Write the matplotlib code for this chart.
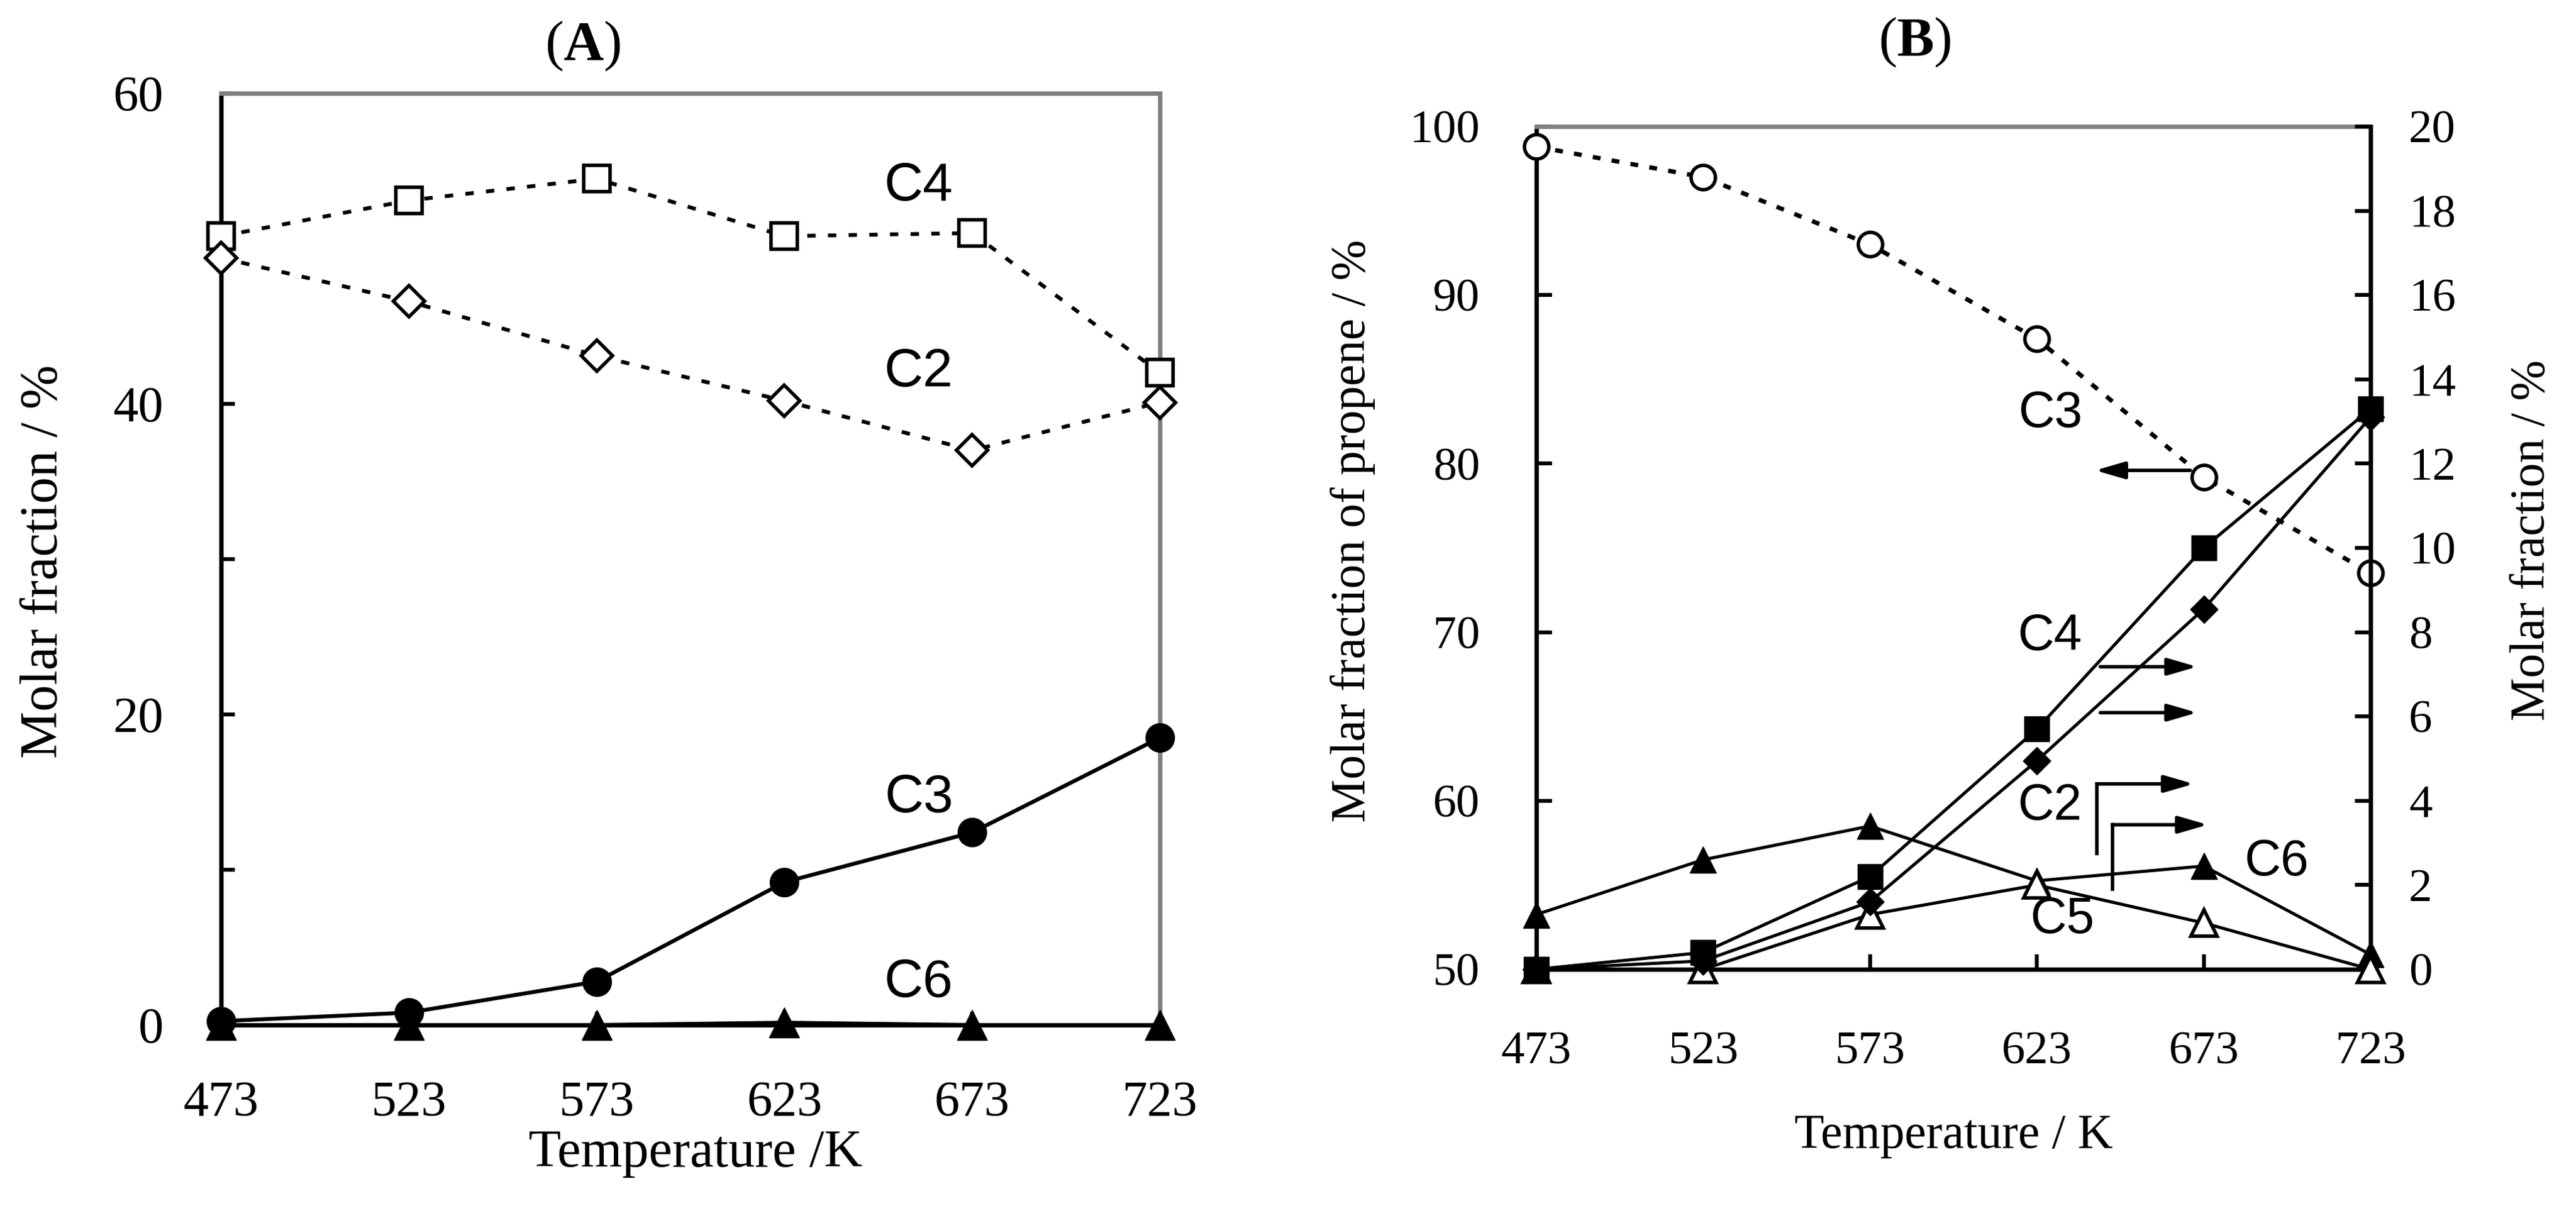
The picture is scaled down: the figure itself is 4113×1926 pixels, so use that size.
import matplotlib
matplotlib.use('Agg')
import matplotlib.pyplot as plt
from matplotlib.ticker import FixedLocator

# ---------------- data ----------------
temps = [473, 523, 573, 623, 673, 723]

# Panel A (molar fraction / %)
a_c4 = [50.8, 53.1, 54.5, 50.8, 51.0, 42.0]
a_c2 = [49.4, 46.6, 43.1, 40.2, 37.0, 40.1]
a_c3 = [0.25, 0.8, 2.8, 9.2, 12.4, 18.5]
a_c6 = [0.0, 0.0, 0.0, 0.15, 0.0, 0.0]

# Panel B
b_c3 = [98.8, 97.0, 93.0, 87.4, 79.2, 73.5]      # left axis (propene)
b_c4 = [0.0, 0.4, 2.2, 5.7, 10.0, 13.3]          # right axis
b_c2 = [0.0, 0.2, 1.6, 4.95, 8.55, 13.1]
b_c6 = [1.3, 2.6, 3.4, 2.1, 2.45, 0.35]
b_c5 = [0.0, 0.0, 1.3, 2.0, 1.1, 0.0]

a_yticks = [0, 20, 40, 60]
a_yminor = [10, 30, 50]
b_left_ticks = [50, 60, 70, 80, 90, 100]
b_right_ticks = [0, 2, 4, 6, 8, 10, 12, 14, 16, 18, 20]

# ---------------- style ----------------
SERIF = ['Liberation Serif', 'DejaVu Serif']
SANS = ['Liberation Sans', 'DejaVu Sans']
plt.rcParams['font.family'] = SERIF
plt.rcParams['mathtext.fontset'] = 'custom'
plt.rcParams['mathtext.rm'] = 'Liberation Serif'
plt.rcParams['mathtext.bf'] = 'Liberation Serif:bold'

GRAY = '#808080'
SPINE_LW = 5.0
TICK_W = 4.5

fig = plt.figure(figsize=(41.13, 19.26), dpi=100)
axA = fig.add_axes([0.08583, 0.15005, 0.36445, 0.77259])
axB = fig.add_axes([0.59640, 0.19626, 0.32385, 0.69886])
ax2 = axB.twinx()

# ---------------- Panel A ----------------
dA = (2.2, 3.2)
axA.plot(temps, a_c4, color='black', lw=4.4, dashes=dA, marker='s', ms=30,
         mfc='white', mec='black', mew=4.0, clip_on=False, zorder=5)
axA.plot(temps, a_c2, color='black', lw=4.4, dashes=dA, marker='D', ms=25,
         mfc='white', mec='black', mew=4.0, clip_on=False, zorder=5)
axA.plot(temps, a_c6, color='black', lw=4.5, marker='^', ms=34,
         mfc='black', mec='black', clip_on=False, zorder=4)
axA.plot(temps, a_c3, color='black', lw=4.5, marker='o', ms=33,
         mfc='black', mec='black', clip_on=False, zorder=5)

axA.set_xlim(473, 723)
axA.set_ylim(0, 60)
axA.set_xticks(temps)
axA.set_xticklabels([str(t) for t in temps])
axA.yaxis.set_major_locator(FixedLocator(a_yticks))
axA.yaxis.set_minor_locator(FixedLocator(a_yminor))
axA.tick_params(axis='x', which='both', direction='in', length=15, width=TICK_W,
                labelsize=58, pad=64, top=False)
axA.tick_params(axis='y', which='major', direction='in', length=16, width=TICK_W,
                labelsize=58, pad=66, right=False)
axA.tick_params(axis='y', which='minor', direction='in', length=16, width=TICK_W,
                right=False)
for s in ['left', 'bottom']:
    axA.spines[s].set_color('black')
    axA.spines[s].set_linewidth(SPINE_LW)
for s in ['top', 'right']:
    axA.spines[s].set_color(GRAY)
    axA.spines[s].set_linewidth(SPINE_LW)

axA.set_xlabel('Temperature /K', fontsize=61, va='center', ha='center')
axA.xaxis.set_label_coords(0.505, -0.1384)
axA.set_ylabel('Molar fraction / %', fontsize=61, va='center', ha='center')
axA.yaxis.set_label_coords(-0.1888, 0.4973)
axA.text(0.3856, 1.0504, r'($\mathbf{A}$)', transform=axA.transAxes,
         fontsize=64, ha='center', va='center')

labA = [('C4', 658.8, 54.0), ('C2', 658.8, 42.0), ('C3', 658.8, 14.6), ('C6', 658.8, 2.7)]
for t, x, y in labA:
    axA.text(x, y, t, family=SANS, fontsize=62, ha='center', va='center')

# ---------------- Panel B ----------------
dB = (1.8, 2.6)
axB.plot(temps, b_c3, color='black', lw=5.0, dashes=dB, marker='o', ms=28,
         mfc='white', mec='black', mew=4.0, clip_on=False, zorder=5)
axB.set_xlim(473, 723)
axB.set_ylim(50, 100)
axB.set_xticks(temps)
axB.set_xticklabels([str(t) for t in temps])
axB.set_yticks(b_left_ticks)
axB.tick_params(axis='x', direction='in', length=17, width=TICK_W, labelsize=54,
                pad=71, top=False)
axB.tick_params(axis='y', direction='in', length=18, width=TICK_W, labelsize=54,
                pad=65, right=False)

lwB = 3.6
ax2.plot(temps, b_c6, color='black', lw=lwB, marker='^', ms=30, mfc='black',
         mec='black', clip_on=False, zorder=3)
ax2.plot(temps, b_c5, color='black', lw=lwB, marker='^', ms=30, mfc='white',
         mec='black', mew=4.0, clip_on=False, zorder=4)
ax2.plot(temps, b_c2, color='black', lw=lwB, marker='D', ms=22, mfc='black',
         mec='black', clip_on=False, zorder=5)
ax2.plot(temps, b_c4, color='black', lw=lwB, marker='s', ms=29, mfc='black',
         mec='black', clip_on=False, zorder=5)
ax2.set_ylim(0, 20)
ax2.set_yticks(b_right_ticks)
ax2.tick_params(axis='y', direction='in', length=18, width=TICK_W, labelsize=54,
                pad=44)

for s in ['left', 'bottom']:
    axB.spines[s].set_color('black')
    axB.spines[s].set_linewidth(SPINE_LW)
axB.spines['top'].set_color(GRAY)
axB.spines['top'].set_linewidth(SPINE_LW)
axB.spines['right'].set_visible(False)
for s in ['left', 'bottom', 'top']:
    ax2.spines[s].set_visible(False)
ax2.spines['right'].set_color('black')
ax2.spines['right'].set_linewidth(SPINE_LW)

axB.set_xlabel('Temperature / K', fontsize=56, va='center', ha='center')
axB.xaxis.set_label_coords(0.5, -0.198)
axB.set_ylabel('Molar fraction of propene / %', fontsize=56, va='center', ha='center')
axB.yaxis.set_label_coords(-0.2200, 0.520)
ax2.set_ylabel('Molar fraction / %', fontsize=56, va='center', ha='center',
               rotation=90)
ax2.yaxis.set_label_coords(1.1937, 0.509)
axB.text(0.4535, 1.100, r'($\mathbf{B}$)', transform=axB.transAxes,
         fontsize=64, ha='center', va='center')

# series labels
axB.text(627.1, 82.95, 'C3', family=SANS, fontsize=58, ha='center', va='center')
labB = [('C4', 626.9, 7.89), ('C2', 626.9, 3.86), ('C6', 695.0, 2.54), ('C5', 630.7, 1.17)]
for t, x, y in labB:
    ax2.text(x, y, t, family=SANS, fontsize=58, ha='center', va='center')

# arrows
arrow_kw = dict(arrowstyle='-|>,head_length=1.1,head_width=0.32', lw=4,
                color='black', shrinkA=0, shrinkB=0, mutation_scale=26)
c3_arrow = ((669, 79.6), (640.5, 79.6))
axB.annotate('', xy=c3_arrow[1], xytext=c3_arrow[0], arrowprops=arrow_kw)

right_arrows = [((642, 7.18), (671, 7.18)), ((642, 6.09), (671, 6.09))]
for start, end in right_arrows:
    ax2.annotate('', xy=end, xytext=start, arrowprops=arrow_kw)

hooks = [(641.0, 2.75, 4.40, 670.0), (645.6, 1.90, 3.43, 674.2)]
for hx, hy0, hy1, hx1 in hooks:
    ax2.plot([hx, hx], [hy0, hy1], color='black', lw=4, solid_capstyle='projecting',
             zorder=6)
    ax2.annotate('', xy=(hx1, hy1), xytext=(hx, hy1), arrowprops=arrow_kw)

fig.savefig('out.png', dpi=100)
